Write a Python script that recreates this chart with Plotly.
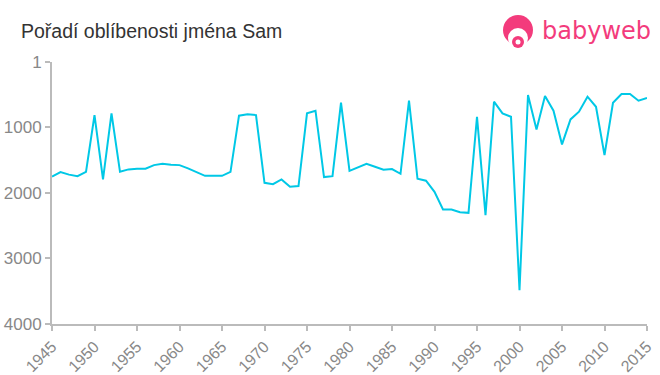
import plotly.graph_objects as go

years = list(range(1945, 2016))
ranks = [1750, 1680, 1720, 1745, 1677, 811, 1793, 785, 1677, 1640,
         1630, 1630, 1575, 1555, 1570, 1575, 1625, 1677, 1738, 1738,
         1738, 1677, 821, 800, 811, 1845, 1865, 1793, 1905, 1895,
         785, 745, 1758, 1743, 620, 1662, 1610, 1555, 1600, 1645,
         1635, 1707, 592, 1783, 1813, 1982, 2252, 2252, 2293, 2303,
         837, 2340, 607, 785, 837, 3486, 505, 1030, 521, 745,
         1259, 877, 760, 531, 684, 1422, 623, 490, 490, 592, 551]

x_ticks = list(range(1945, 2016, 5))
y_ticks = [1, 1000, 2000, 3000, 4000]
title = "Pořadí oblíbenosti jména Sam"

fig = go.Figure()
fig.add_trace(go.Scatter(x=years, y=ranks, mode="lines",
                         line=dict(color="#00c8e6", width=2), hoverinfo="x+y"))

axis_col = "#bbbbbb"
font_col = "#888888"
L, R, T, B = 52, 13, 62, 51
PW, PH = 660 - L - R, 375 - T - B

def px(xp):
    return (xp - L) / PW
def py(yp):
    return (375 - B - yp) / PH

fig.update_layout(
    width=660, height=375,
    margin=dict(l=L, r=R, t=T, b=B, autoexpand=False),
    plot_bgcolor="white", paper_bgcolor="white",
    showlegend=False,
    font=dict(family="Liberation Sans, Arial, sans-serif", color=font_col, size=16),
    xaxis=dict(range=[1945, 2015], tickvals=x_ticks, tickangle=-45, automargin=False,
               showgrid=False, zeroline=False, showline=True, linecolor=axis_col,
               linewidth=2, ticks="outside", tickcolor=axis_col, ticklen=5, tickwidth=2,
               tickfont=dict(size=16, color=font_col)),
    yaxis=dict(range=[4000, 1], tickvals=y_ticks, showgrid=False, zeroline=False,
               automargin=False,
               showline=True, linecolor=axis_col, linewidth=2, ticks="outside",
               tickcolor=axis_col, ticklen=5, tickwidth=2,
               tickfont=dict(size=17, color=font_col)),
    annotations=[
        dict(text=title, xref="paper", yref="paper", x=px(19), y=py(31),
             xanchor="left", yanchor="middle", showarrow=False,
             font=dict(size=19.5, color="#333333")),
        dict(text="babyweb", xref="paper", yref="paper", x=px(653), y=py(31),
             xanchor="right", yanchor="middle", showarrow=False,
             font=dict(size=24, color="#f33b7c", family="DejaVu Sans, sans-serif")),
    ],
)

shapes = [
    dict(type="circle", xref="paper", yref="paper", x0=px(503), x1=px(533),
         y0=py(45), y1=py(15), fillcolor="#f33b7c", line=dict(width=0)),
    dict(type="circle", xref="paper", yref="paper", x0=px(508), x1=px(528),
         y0=py(48), y1=py(28), fillcolor="white", line=dict(width=0)),
    dict(type="circle", xref="paper", yref="paper", x0=px(512), x1=px(524),
         y0=py(48), y1=py(36), fillcolor="#f33b7c", line=dict(width=0)),
    dict(type="circle", xref="paper", yref="paper", x0=px(515.5), x1=px(520.5),
         y0=py(44.5), y1=py(39.5), fillcolor="white", line=dict(width=0)),
]
fig.update_layout(shapes=shapes)

fig.write_html("out.html", config={"displayModeBar": False},
               post_script="document.body.style.margin='0';document.body.style.overflow='hidden';")
